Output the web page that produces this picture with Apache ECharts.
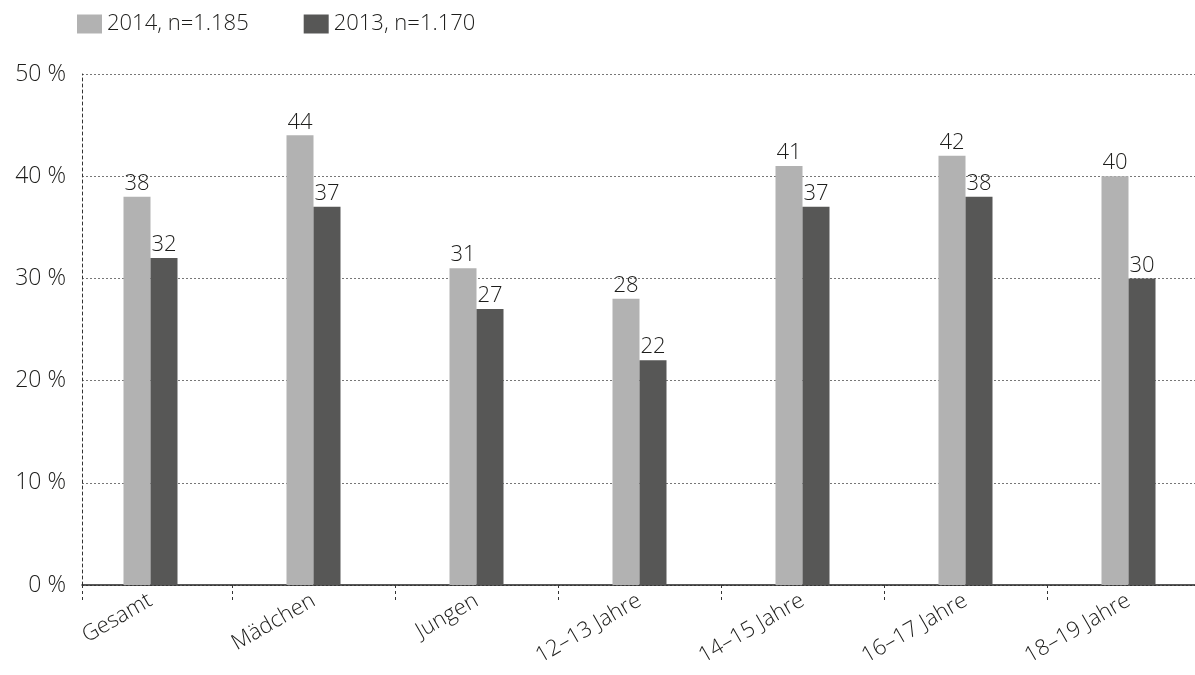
<!DOCTYPE html>
<html>
<head>
<meta charset="utf-8">
<script src="https://cdn.jsdelivr.net/npm/echarts@6/dist/echarts.min.js"></script>
<style>
  html, body { margin: 0; padding: 0; background: #fff; }
  #chart { width: 1195px; height: 675px; }
</style>
</head>
<body>
<div id="chart"></div>
<script>
// Anteile in Prozent je Gruppe
const categories = ['Gesamt', 'Mädchen', 'Jungen', '12–13 Jahre', '14–15 Jahre', '16–17 Jahre', '18–19 Jahre'];
const values2014 = [38, 44, 31, 28, 41, 42, 40];
const values2013 = [32, 37, 27, 22, 37, 38, 30];
const seriesNames = ['2014, n=1.185', '2013, n=1.170'];
const yTicks = [0, 10, 20, 30, 40, 50];

const FONT = '"Open Sans", Lato, "Noto Sans", sans-serif';
const TEXT = '#1d1d1b';
const LIGHT = '#b2b2b2';
const DARK = '#575756';
const WEIGHT = 300;

const chart = echarts.init(document.getElementById('chart'), null, { renderer: 'canvas' });

const valueLabel = {
  show: true,
  position: 'top',
  distance: 2,
  color: TEXT,
  fontFamily: FONT,
  fontSize: 22,
  fontWeight: WEIGHT
};

chart.setOption({
  animation: false,
  backgroundColor: '#fff',
  textStyle: { fontFamily: FONT, color: TEXT },
  legend: {
    left: 77,
    top: 13,
    padding: 0,
    itemWidth: 25,
    itemHeight: 19,
    itemGap: 55,
    icon: 'rect',
    data: seriesNames,
    textStyle: { fontSize: 22, color: TEXT, fontFamily: FONT, fontWeight: WEIGHT }
  },
  grid: [
    // bar grid: category bands (runs past the right edge)
    { left: 69, width: 1141, top: 74, bottom: 90, containLabel: false, outerBoundsMode: 'none' },
    // frame grid: value axis, gridlines and baseline
    { left: 82, width: 1128, top: 74, bottom: 90, containLabel: false, outerBoundsMode: 'none' }
  ],
  xAxis: [
    {
      type: 'category',
      gridIndex: 0,
      data: categories,
      boundaryGap: true,
      axisLine: { show: false },
      axisTick: {
        show: true,
        length: 18,
        interval: function (index) { return index !== 0; },
        lineStyle: { color: '#333', width: 1, type: [3, 3] }
      },
      axisLabel: {
        interval: 0,
        rotate: 30,
        margin: 14,
        color: TEXT,
        fontFamily: FONT,
        fontSize: 22,
        fontWeight: WEIGHT
      }
    },
    {
      type: 'category',
      gridIndex: 1,
      data: [''],
      boundaryGap: true,
      axisLine: { show: true, lineStyle: { color: '#222', width: 1.5 } },
      axisTick: {
        show: true,
        length: 18,
        lineStyle: { color: '#333', width: 1, type: [3, 3] }
      },
      axisLabel: { show: false },
      splitLine: { show: false }
    }
  ],
  yAxis: [
    {
      type: 'value',
      gridIndex: 0,
      min: yTicks[0],
      max: yTicks[yTicks.length - 1],
      interval: 10,
      show: false,
      splitLine: { show: false }
    },
    {
      type: 'value',
      gridIndex: 1,
      min: yTicks[0],
      max: yTicks[yTicks.length - 1],
      interval: 10,
      axisLine: { show: true, lineStyle: { color: '#333', width: 1, type: [3, 3] } },
      axisTick: { show: false },
      axisLabel: {
        margin: 16,
        color: TEXT,
        fontFamily: FONT,
        fontSize: 23,
        fontWeight: WEIGHT,
        formatter: '{value} %'
      },
      splitLine: { show: true, lineStyle: { color: '#777', width: 1, type: [2, 2] } }
    }
  ],
  series: [
    {
      name: seriesNames[0],
      type: 'bar',
      xAxisIndex: 0,
      yAxisIndex: 0,
      data: values2014,
      barWidth: 27,
      barGap: '0%',
      itemStyle: { color: LIGHT },
      label: valueLabel,
      z: 3
    },
    {
      name: seriesNames[1],
      type: 'bar',
      xAxisIndex: 0,
      yAxisIndex: 0,
      data: values2013,
      barWidth: 27,
      barGap: '0%',
      itemStyle: { color: DARK },
      label: valueLabel,
      z: 3
    }
  ]
});
</script>
</body>
</html>
